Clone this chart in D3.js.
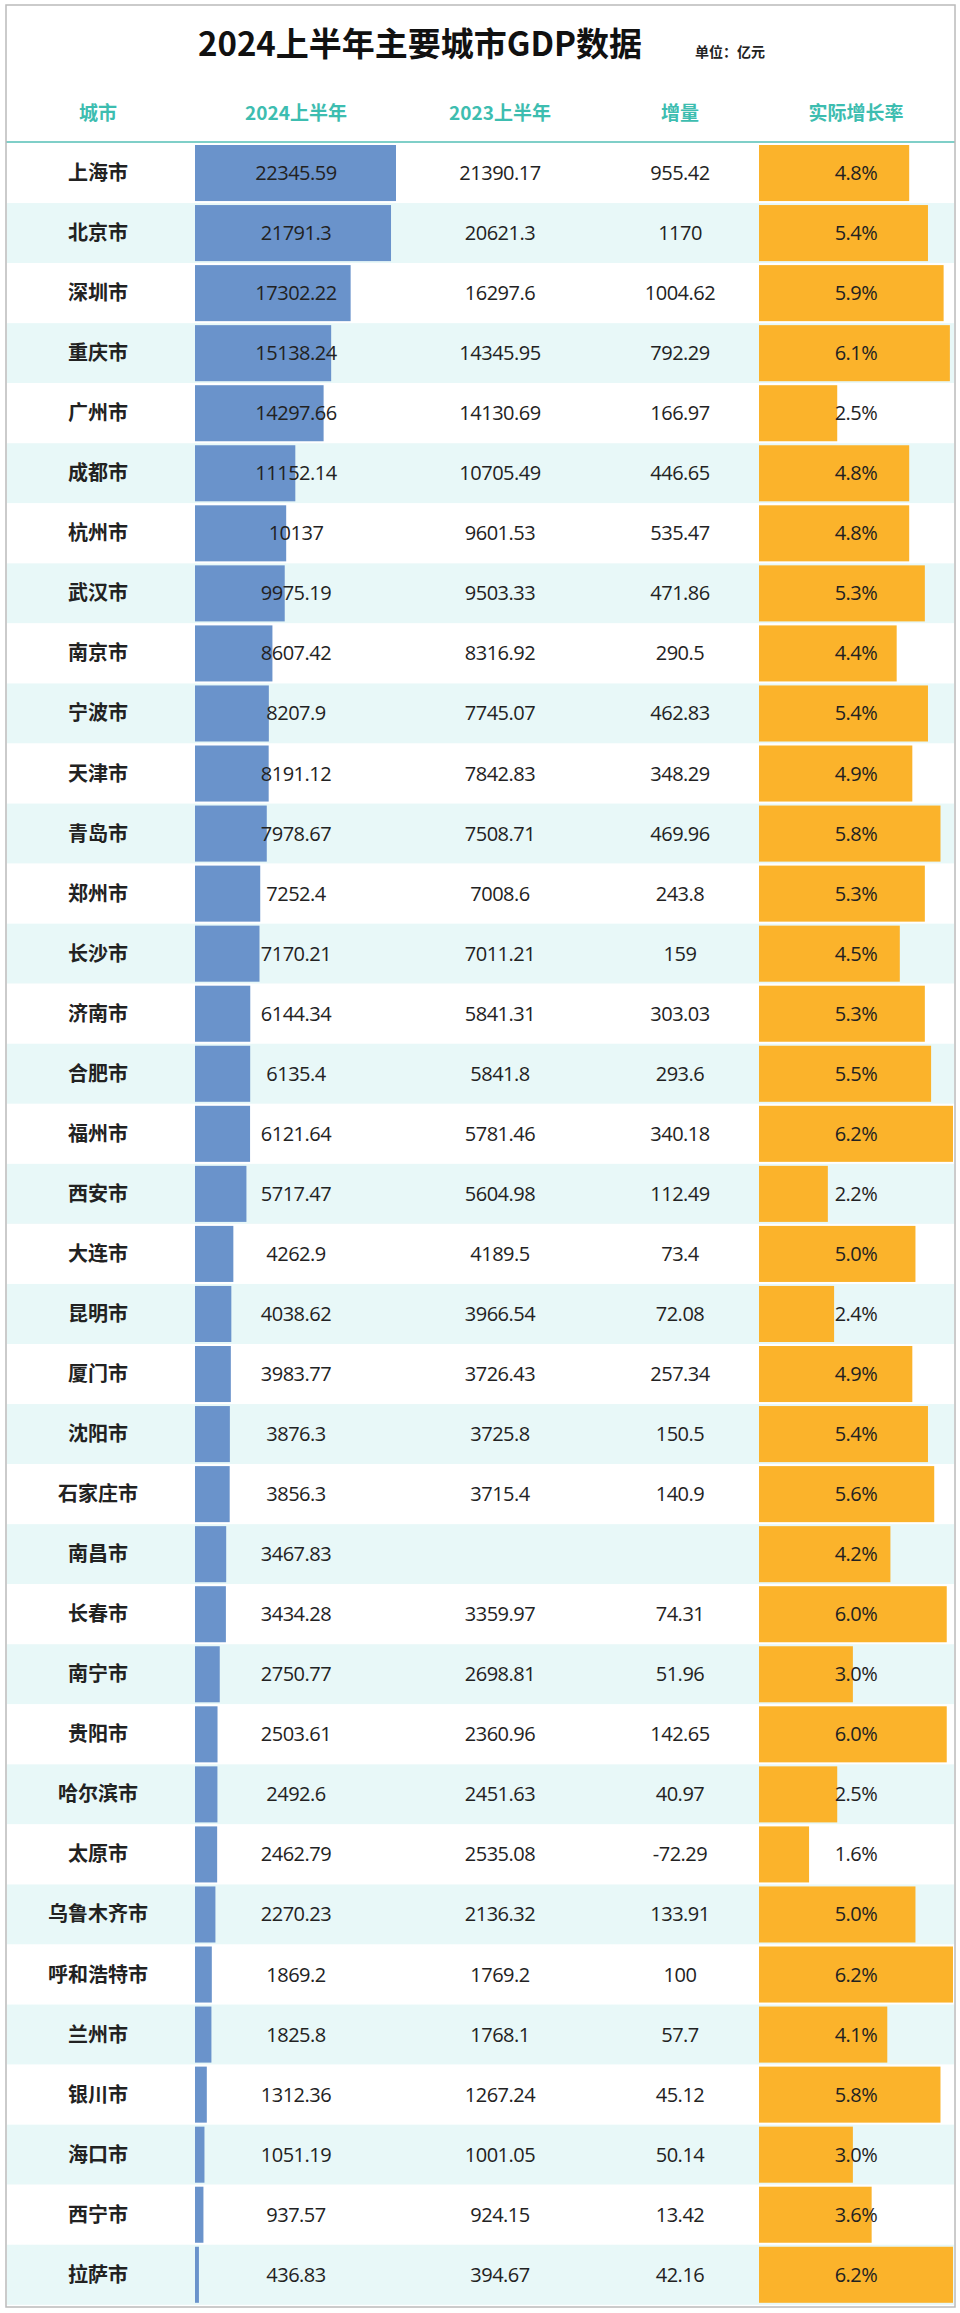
<!DOCTYPE html>
<html><head><meta charset="utf-8">
<script src="https://cdn.jsdelivr.net/npm/d3@7"></script>
<style>body{margin:0;background:#fff}svg{font-family:"Noto Sans CJK SC","Noto Sans",sans-serif}</style>
</head><body><svg id="chart"></svg>
<script>
const cities = ["上海市","北京市","深圳市","重庆市","广州市","成都市","杭州市","武汉市","南京市","宁波市","天津市","青岛市","郑州市","长沙市","济南市","合肥市","福州市","西安市","大连市","昆明市","厦门市","沈阳市","石家庄市","南昌市","长春市","南宁市","贵阳市","哈尔滨市","太原市","乌鲁木齐市","呼和浩特市","兰州市","银川市","海口市","西宁市","拉萨市"];
const gdp2024 = ["22345.59","21791.3","17302.22","15138.24","14297.66","11152.14","10137","9975.19","8607.42","8207.9","8191.12","7978.67","7252.4","7170.21","6144.34","6135.4","6121.64","5717.47","4262.9","4038.62","3983.77","3876.3","3856.3","3467.83","3434.28","2750.77","2503.61","2492.6","2462.79","2270.23","1869.2","1825.8","1312.36","1051.19","937.57","436.83"];
const gdp2023 = ["21390.17","20621.3","16297.6","14345.95","14130.69","10705.49","9601.53","9503.33","8316.92","7745.07","7842.83","7508.71","7008.6","7011.21","5841.31","5841.8","5781.46","5604.98","4189.5","3966.54","3726.43","3725.8","3715.4","","3359.97","2698.81","2360.96","2451.63","2535.08","2136.32","1769.2","1768.1","1267.24","1001.05","924.15","394.67"];
const increase = ["955.42","1170","1004.62","792.29","166.97","446.65","535.47","471.86","290.5","462.83","348.29","469.96","243.8","159","303.03","293.6","340.18","112.49","73.4","72.08","257.34","150.5","140.9","","74.31","51.96","142.65","40.97","-72.29","133.91","100","57.7","45.12","50.14","13.42","42.16"];
const growth = ["4.8%","5.4%","5.9%","6.1%","2.5%","4.8%","4.8%","5.3%","4.4%","5.4%","4.9%","5.8%","5.3%","4.5%","5.3%","5.5%","6.2%","2.2%","5.0%","2.4%","4.9%","5.4%","5.6%","4.2%","6.0%","3.0%","6.0%","2.5%","1.6%","5.0%","6.2%","4.1%","5.8%","3.0%","3.6%","6.2%"];
const headers = ["城市","2024上半年","2023上半年","增量","实际增长率"];

const W = 960, H = 2313, tableTop = 143, rowH = 60.05;
const colX = [98, 296, 500, 680, 856];
const svg = d3.select("#chart").attr("width", W).attr("height", H);

const y = d3.scaleBand().domain(d3.range(cities.length)).range([tableTop, tableTop + rowH * cities.length]);
const xGdp = d3.scaleLinear().domain([0, 22345.59]).range([0, 201]);
const xRate = d3.scaleLinear().domain([0, 6.2]).range([0, 194]);

svg.append("text").attr("x", 420).attr("y", 56).attr("text-anchor", "middle")
  .attr("font-size", 33).attr("font-weight", "bold").attr("fill", "#111").text("2024上半年主要城市GDP数据");
svg.append("text").attr("x", 695).attr("y", 57).attr("font-size", 14).attr("font-weight", "bold")
  .attr("fill", "#222").text("单位：亿元");

svg.selectAll(".hd").data(headers).enter().append("text")
  .attr("x", (d, i) => colX[i]).attr("y", 120).attr("text-anchor", "middle")
  .attr("font-size", 19).attr("font-weight", "bold").attr("fill", "#3dbdb0").text(d => d);

const rows = svg.selectAll(".row").data(cities).enter().append("g")
  .attr("transform", (d, i) => `translate(0,${y(i)})`);

rows.append("rect").attr("x", 7).attr("width", 947).attr("height", rowH)
  .attr("fill", (d, i) => i % 2 ? "#e8f8f8" : "#fff");

rows.append("rect").attr("x", 195).attr("y", 2).attr("height", rowH - 4)
  .attr("width", (d, i) => xGdp(+gdp2024[i])).attr("fill", "#6a93cb");
rows.append("rect").attr("x", 759).attr("y", 2).attr("height", rowH - 4)
  .attr("width", (d, i) => xRate(parseFloat(growth[i]))).attr("fill", "#fbb32b");

const cols = [cities, gdp2024, gdp2023, increase, growth];
cols.forEach((arr, c) => {
  rows.append("text").attr("x", colX[c]).attr("y", rowH / 2 + 7).attr("text-anchor", "middle")
    .attr("font-size", 20).attr("font-weight", c === 0 ? "bold" : "normal")
    .attr("fill", "#222").attr("font-family", c === 0 ? null : "'Open Sans','Noto Sans',sans-serif")
    .attr("letter-spacing", c === 0 ? 0 : -0.5)
    .text((d, i) => arr[i]);
});

svg.append("line").attr("x1", 6).attr("x2", 955).attr("y1", tableTop - 1).attr("y2", tableTop - 1)
  .attr("stroke", "#7fcfc8").attr("stroke-width", 2);
svg.append("rect").attr("x", 6).attr("y", 5).attr("width", 949).attr("height", 2302)
  .attr("fill", "none").attr("stroke", "#bbb").attr("stroke-width", 1.5);
</script></body></html>
